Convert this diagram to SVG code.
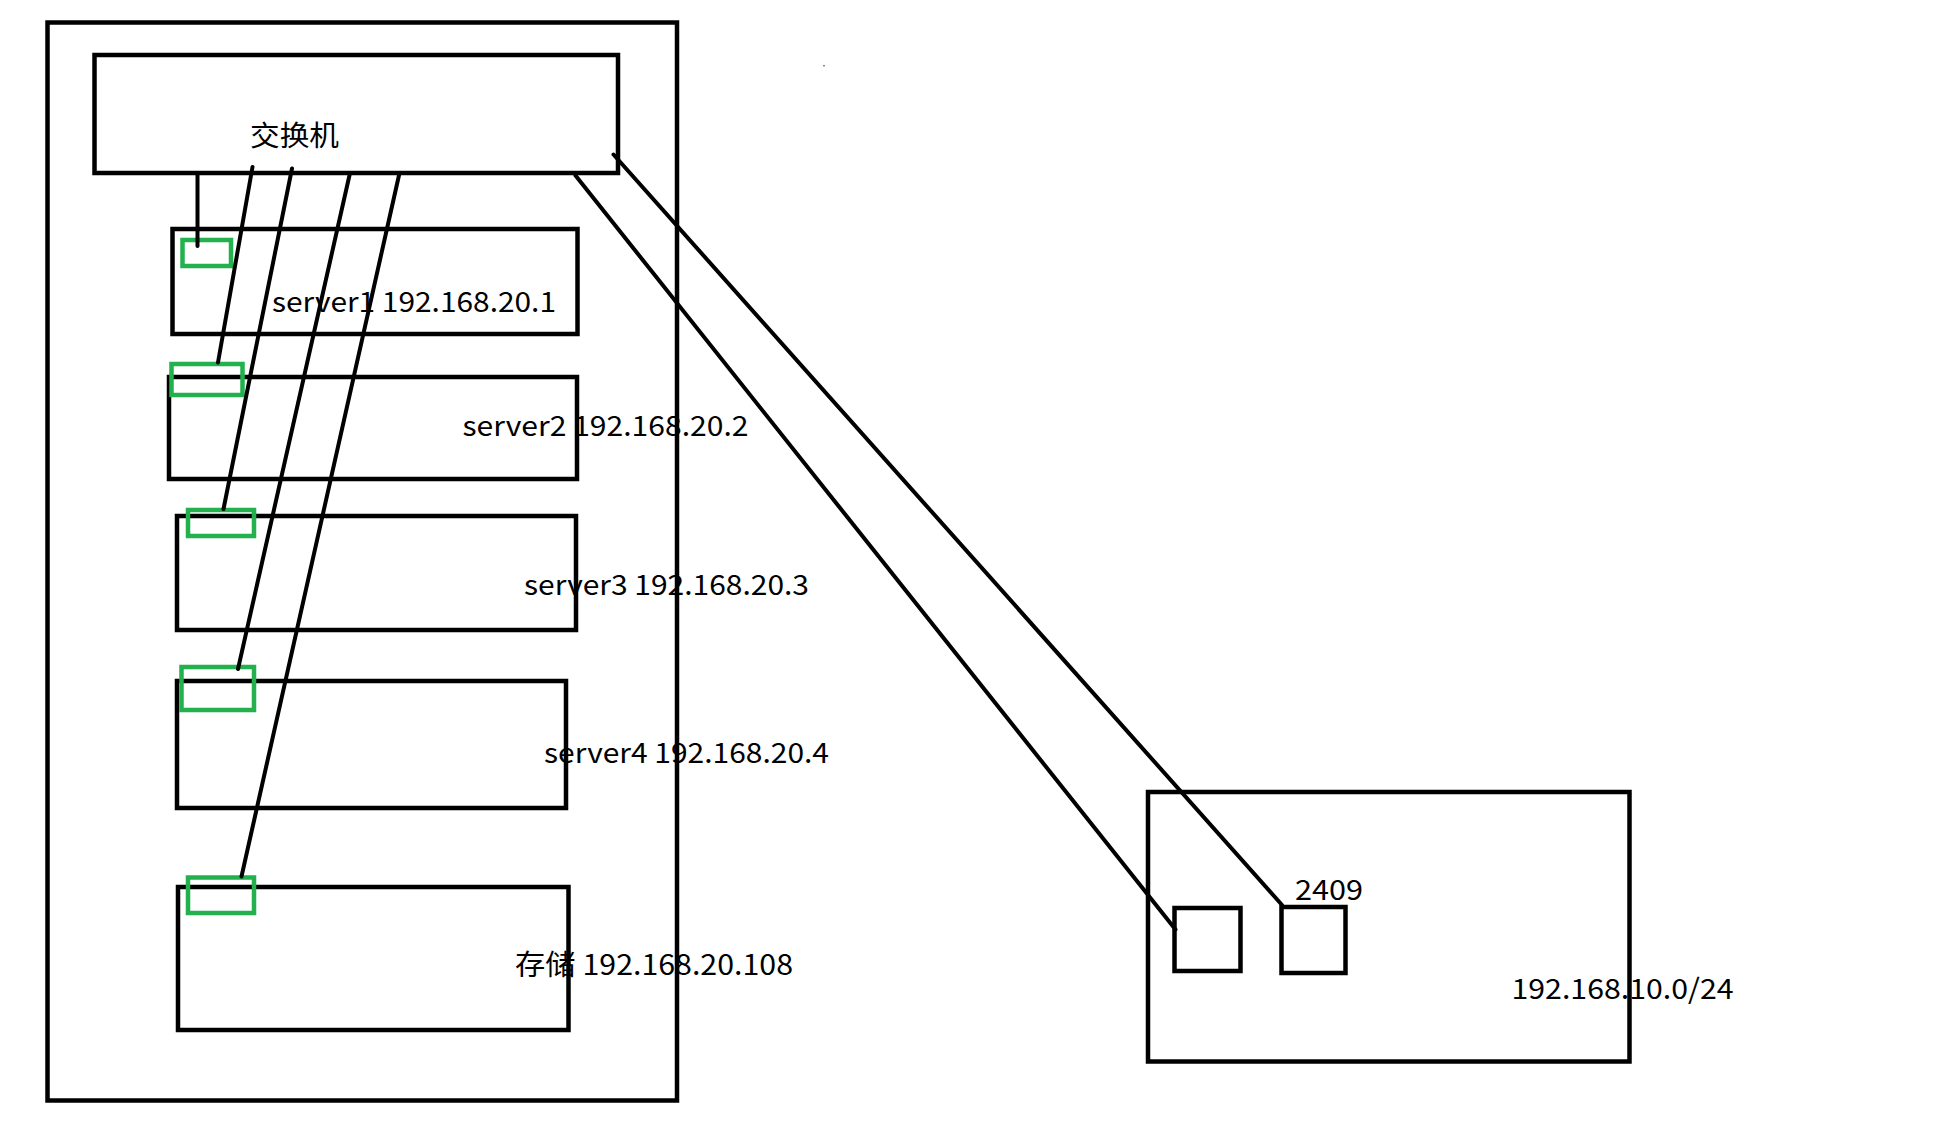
<svg xmlns="http://www.w3.org/2000/svg" width="1960" height="1140" viewBox="0 0 1960 1140">
<style>
.box{fill:none;stroke:#000;stroke-width:4.5}
.port{fill:none;stroke:#22b14c;stroke-width:4.5}
.wire{fill:none;stroke:#000;stroke-width:4;stroke-linecap:round}
.lbl{font-family:"Noto Sans CJK SC","Microsoft YaHei","Noto Sans",sans-serif;font-size:28px;fill:#000}
</style>
<rect width="1960" height="1140" fill="#fff"/>
<rect x="823" y="65" width="2" height="1.5" fill="#888"/>
<g id="rack">
<rect class="box" x="47.5" y="22.5" width="629.5" height="1078"/>
</g>
<g id="switch">
<rect class="box" x="94.5" y="55" width="523.5" height="118"/>
<text class="lbl" x="250" y="145.5" textLength="89" lengthAdjust="spacingAndGlyphs">交换机</text>
</g>
<g id="server1">
<rect class="box" x="172.5" y="229" width="405" height="105"/>
<rect class="port" x="182.5" y="240" width="48.5" height="26"/>
<text class="lbl" x="272" y="311.5" textLength="284" lengthAdjust="spacingAndGlyphs">server1 192.168.20.1</text>
</g>
<g id="server2">
<rect class="box" x="169" y="377" width="408" height="102"/>
<rect class="port" x="171.5" y="364" width="71" height="31"/>
<text class="lbl" x="462.5" y="436" textLength="286" lengthAdjust="spacingAndGlyphs">server2 192.168.20.2</text>
</g>
<g id="server3">
<rect class="box" x="177" y="516" width="399" height="114"/>
<rect class="port" x="188" y="510" width="66" height="26"/>
<text class="lbl" x="524" y="595" textLength="285" lengthAdjust="spacingAndGlyphs">server3 192.168.20.3</text>
</g>
<g id="server4">
<rect class="box" x="177" y="681" width="389" height="127"/>
<rect class="port" x="181.5" y="667" width="72.5" height="43"/>
<text class="lbl" x="544" y="763" textLength="285" lengthAdjust="spacingAndGlyphs">server4 192.168.20.4</text>
</g>
<g id="storage">
<rect class="box" x="178" y="887" width="390.5" height="143"/>
<rect class="port" x="188" y="877.5" width="66" height="35.5"/>
<text class="lbl" x="515" y="975" textLength="278" lengthAdjust="spacingAndGlyphs">存储 192.168.20.108</text>
</g>
<g id="remote">
<rect class="box" x="1148" y="792" width="481.5" height="269.5"/>
<text class="lbl" x="1511.5" y="999" textLength="222" lengthAdjust="spacingAndGlyphs">192.168.10.0/24</text>
</g>
<g id="port-a">
<rect class="box" x="1174.5" y="908" width="66" height="63"/>
</g>
<g id="port-2409">
<rect class="box" x="1281.5" y="907" width="64" height="66"/>
<text class="lbl" x="1295" y="900" textLength="68" lengthAdjust="spacingAndGlyphs">2409</text>
</g>
<g id="connectors">
<line class="wire" x1="197.5" y1="173" x2="197.5" y2="246"/>
<line class="wire" x1="252.5" y1="167" x2="218" y2="362.5"/>
<line class="wire" x1="292" y1="168.5" x2="223.5" y2="509"/>
<line class="wire" x1="350" y1="173" x2="238" y2="669"/>
<line class="wire" x1="399.5" y1="173" x2="241.5" y2="876.5"/>
<line class="wire" x1="575.5" y1="175.5" x2="1175.5" y2="929.5"/>
<line class="wire" x1="613.5" y1="154.5" x2="1282" y2="905"/>
</g>
</svg>
